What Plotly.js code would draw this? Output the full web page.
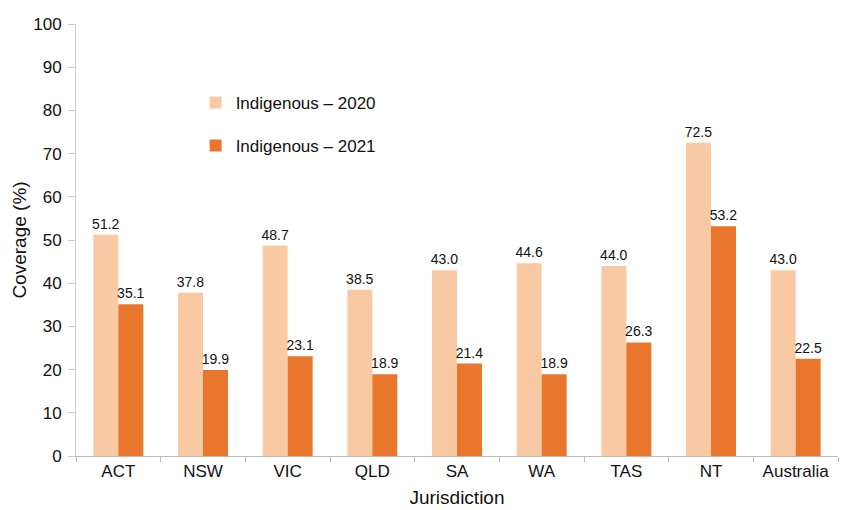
<!DOCTYPE html>
<html>
<head>
<meta charset="utf-8">
<script src="https://cdn.plot.ly/plotly-3.0.1.min.js"></script>
<style>html,body{margin:0;padding:0;background:#fff;}#chart{width:842px;height:510px;}</style>
</head>
<body>
<div id="chart"></div>
<script>
const categories = ["ACT", "NSW", "VIC", "QLD", "SA", "WA", "TAS", "NT", "Australia"];
const indigenous2020 = [51.2, 37.8, 48.7, 38.5, 43.0, 44.6, 44.0, 72.5, 43.0];
const indigenous2021 = [35.1, 19.9, 23.1, 18.9, 21.4, 18.9, 26.3, 53.2, 22.5];
const seriesNames = ["Indigenous \u2013 2020", "Indigenous \u2013 2021"];

const font = "Liberation Sans, Arial, Helvetica, sans-serif";

const traces = [
  {
    type: "bar", x: categories, y: indigenous2020, name: seriesNames[0],
    legendgroup: "a",
    marker: {color: "#F8C9A3"},
    text: indigenous2020.map(v => v.toFixed(1)), textposition: "outside",
    constraintext: "none",
    textfont: {family: font, size: 14, color: "#111"}, cliponaxis: false
  },
  {
    type: "bar", x: categories, y: indigenous2021, name: seriesNames[1],
    legendgroup: "b",
    marker: {color: "#E8762C"},
    text: indigenous2021.map(v => v.toFixed(1)), textposition: "outside",
    constraintext: "none",
    textfont: {family: font, size: 14, color: "#111"}, cliponaxis: false
  }
];

const layout = {
  width: 842, height: 510,
  margin: {l: 76, r: 4, t: 24, b: 54},
  paper_bgcolor: "#fff", plot_bgcolor: "#fff",
  font: {family: font, color: "#111"},
  barmode: "group", bargap: 0.41, bargroupgap: 0,
  showlegend: true,
  legend: {x: 0.157, y: 0.859, xanchor: "left", yanchor: "top",
           font: {family: font, size: 17, color: "#111"},
           tracegroupgap: 18, bgcolor: "rgba(0,0,0,0)", itemwidth: 30},
  xaxis: {
    type: "category", showgrid: false, showline: true, linecolor: "#bbb", linewidth: 1,
    ticks: "outside", tickson: "boundaries", ticklen: 5, tickcolor: "#bbb",
    tickfont: {family: font, size: 17, color: "#111"},
    title: {text: "Jurisdiction", font: {family: font, size: 19, color: "#111"}, standoff: 10},
    fixedrange: true
  },
  yaxis: {
    range: [0, 100], dtick: 10, showgrid: false, zeroline: false,
    showline: true, linecolor: "#ccc", linewidth: 1,
    ticks: "outside", ticklen: 7, tickcolor: "#ccc", ticklabelstandoff: 3,
    tickfont: {family: font, size: 17, color: "#111"},
    title: {text: "Coverage (%)", font: {family: font, size: 19, color: "#111"}, standoff: 1}
  }
};

Plotly.newPlot("chart", traces, layout, {displayModeBar: false, staticPlot: true});
</script>
</body>
</html>
